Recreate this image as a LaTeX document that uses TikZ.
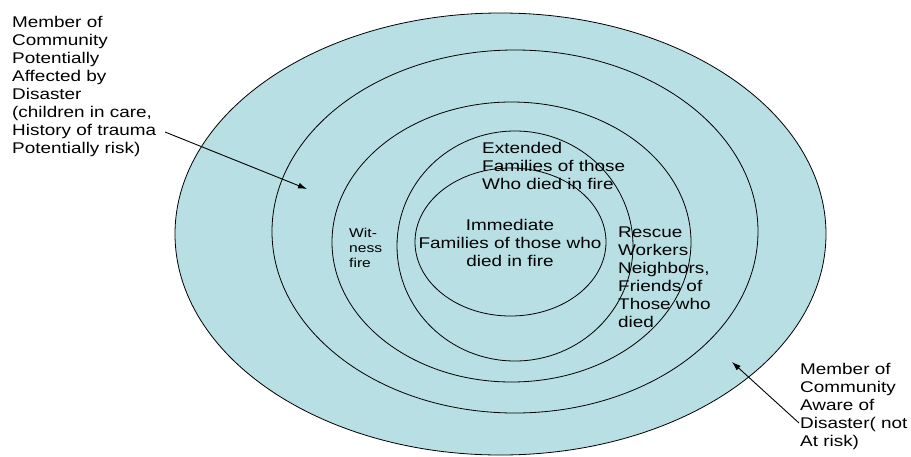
\documentclass[tikz,border=0pt]{standalone}
\usepackage{fontspec}
\setmainfont{Liberation Sans}[FakeStretch=1.22]
\usetikzlibrary{shapes.geometric,arrows.meta}
\definecolor{ringfill}{HTML}{B8DFE3}
\tikzset{
  ring/.style={ellipse, draw=black, line width=0.8pt, fill=ringfill, inner sep=0pt},
  lbl/.style={inner sep=0pt, align=left, font=\fontsize{15.5}{18}\selectfont},
  small/.style={inner sep=0pt, align=left, font=\fontsize{12.8}{15}\selectfont},
  pointer/.style={line width=0.9pt, -{Latex[length=9pt,width=6pt]}}
}
\begin{document}
\begin{tikzpicture}[x=1pt,y=-1pt]
\useasboundingbox (0,0) rectangle (911,456);
\node[ring, minimum width=651pt, minimum height=442pt] (r1) at (500.5,234) {};
\node[ring, minimum width=486pt, minimum height=363pt] (r2) at (515,231.5) {};
\node[ring, minimum width=359pt, minimum height=280pt] (r3) at (511.5,242) {};
\node[ring, minimum width=236pt, minimum height=230pt] (r4) at (515,246) {};
\node[ring, minimum width=191pt, minimum height=148pt] (r5) at (510.5,242) {};

\node[lbl, align=center, anchor=north] (imm) at (510,219) {Immediate\\Families of those who\\died in fire};
\node[lbl, anchor=north west] (ext) at (482,142) {Extended\\Families of those\\Who died in fire};
\node[lbl, anchor=north west] (res) at (618,227) {Rescue\\Workers\\Neighbors,\\Friends of\\Those who\\died};
\node[small, anchor=north west] (wit) at (349,228) {Wit-\\ness\\fire};
\node[lbl, anchor=north west] (pot) at (12,16) {Member of\\Community\\Potentially\\Affected by\\Disaster\\(children in care,\\History of trauma\\Potentially risk)};
\node[lbl, anchor=north west] (awr) at (800,363) {Member of\\Community\\Aware of\\Disaster( not\\At risk)};

\coordinate (p1s) at (165,132);
\coordinate (p1e) at (307,189);
\coordinate (p2s) at (799,423);
\coordinate (p2e) at (732,362);
\draw[pointer] (p1s) -- (p1e);
\draw[pointer] (p2s) -- (p2e);
\end{tikzpicture}
\end{document}
